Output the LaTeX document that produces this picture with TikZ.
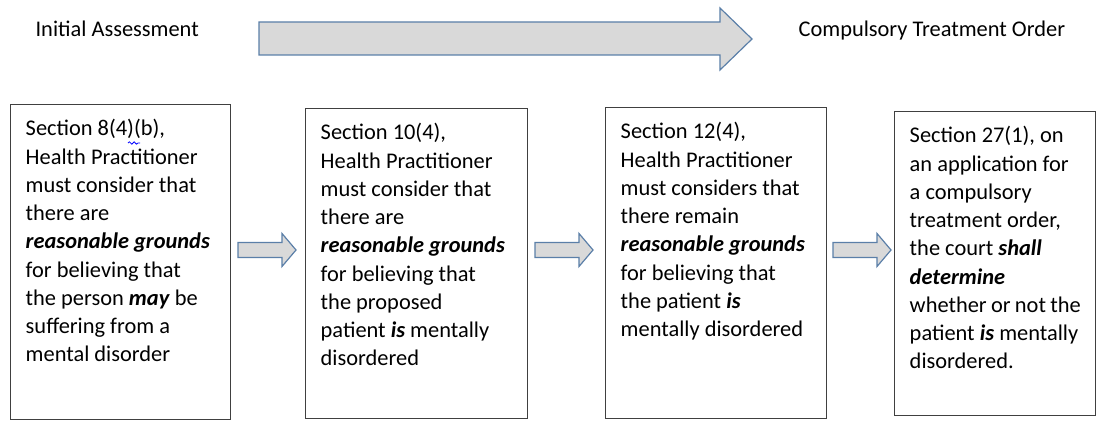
\documentclass[tikz,border=0pt]{standalone}
\usepackage{fontspec}
\setmainfont{Carlito}
\usetikzlibrary{decorations.pathmorphing}
\definecolor{arrowline}{HTML}{5B7FA8}
\definecolor{arrowfill}{HTML}{D9D9D9}
\definecolor{boxline}{HTML}{404040}
\newcommand{\bi}[1]{\textbf{\textit{#1}}}
\begin{document}
\begin{tikzpicture}[x=.75pt,y=.75pt,line width=.9pt,
  font=\fontsize{16.8}{21.2}\selectfont,
  sect/.style={draw=boxline,line width=1.1pt,anchor=north west,inner xsep=11.25pt,inner ysep=8.5pt},
  blk/.style={draw=arrowline,fill=arrowfill,line width=.9pt}]
  \useasboundingbox (0,0) rectangle (1096,421);
  % stage labels
  \node[anchor=base west,inner sep=0pt] (init) at (35,384) {Initial Assessment};
  \node[anchor=base west,inner sep=0pt] (cto) at (798,384) {Compulsory Treatment Order};
  % big arrow
  \draw[blk] (259,366) -- (720,366) -- (720,351) -- (752,382) -- (720,413) -- (720,399) -- (259,399) -- cycle;
  % sections
  \node[sect] (s8) at (10,317) {\parbox[t][219.25pt][t]{142.5pt}{\strut Section 8(4)(b),\\
    Health Practitioner\\
    must consider that\\
    there are\\
    \bi{reasonable grounds}\\
    for believing that\\
    the person \bi{may} be\\
    suffering from a\\
    mental disorder}};
  \node[sect] (s10) at (305,313) {\parbox[t][215.5pt][t]{144pt}{\strut Section 10(4),\\
    Health Practitioner\\
    must consider that\\
    there are\\
    \bi{reasonable grounds}\\
    for believing that\\
    the proposed\\
    patient \bi{is} mentally\\
    disordered}};
  \node[sect] (s12) at (605,314) {\parbox[t][216.25pt][t]{143.25pt}{\strut Section 12(4),\\
    Health Practitioner\\
    must considers that\\
    there remain\\
    \bi{reasonable grounds}\\
    for believing that\\
    the patient \bi{is}\\
    mentally disordered}};
  \node[sect] (s27) at (894,310) {\parbox[t][211pt][t]{128.25pt}{\strut Section 27(1), on\\
    an application for\\
    a compulsory\\
    treatment order,\\
    the court \bi{shall}\\
    \bi{determine}\\
    whether or not the\\
    patient \bi{is} mentally\\
    disordered.}};
  % spell-check mark
  \draw[blue,line width=.6pt,decorate,decoration={snake,amplitude=.9pt,segment length=3.5pt}] (128,278) -- (140,278);
  % small arrows between sections
  \foreach \ax/\ay in {238/171,535/171,833/171}
    \draw[blk] (\ax,\ay-7.5) -- ++(44,0) -- ++(0,-9) -- ++(14,16.5) -- ++(-14,16.5) -- ++(0,-9) -- ++(-44,0) -- cycle;
\end{tikzpicture}
\end{document}
